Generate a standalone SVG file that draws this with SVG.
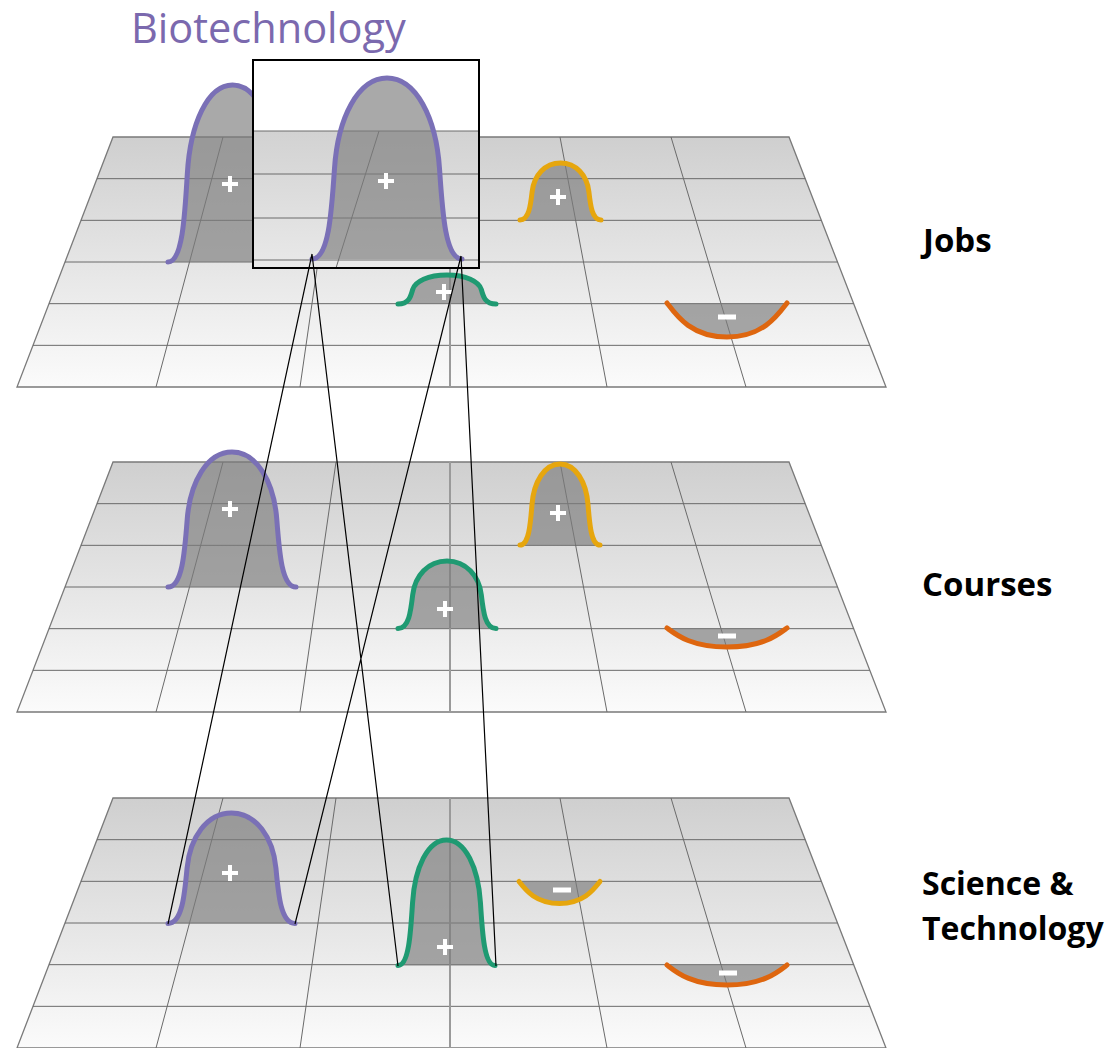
<svg xmlns="http://www.w3.org/2000/svg" xmlns:xlink="http://www.w3.org/1999/xlink" width="1119" height="1048" viewBox="0 0 1119 1048">
<style>
.plane{fill:url(#pg);stroke:#7a7a7a;stroke-width:1.3}
.grid{stroke:#6a6a6a;stroke-width:1;fill:none}
.mid{stroke:#9a9a9a;stroke-width:2;fill:none}
.purple{stroke:#7a70b6}
.yellow{stroke:#e6a60e}
.green{stroke:#1f9a72}
.orange{stroke:#de660f}
.conn{stroke:#000;stroke-width:1.2;fill:none}
.lbl{font-family:"Open Sans","DejaVu Sans",sans-serif;font-weight:bold;font-size:33px;fill:#000}
.lbl2{font-family:"Open Sans","DejaVu Sans",sans-serif;font-weight:bold;font-size:32px;fill:#000}
.title{font-family:"Open Sans","DejaVu Sans",sans-serif;font-size:41.5px;fill:#7b69ae}
</style>
<defs>
<linearGradient id="pg" x1="0" y1="0" x2="0" y2="1">
<stop offset="0" stop-color="#cfcfcf"/>
<stop offset="1" stop-color="#fbfbfb"/>
</linearGradient>
<linearGradient id="ig" x1="0" y1="0" x2="0" y2="1">
<stop offset="0" stop-color="#d2d2d2"/>
<stop offset="1" stop-color="#e9e9e9"/>
</linearGradient>
<g id="plane">
<polygon class="plane" points="113,0 789,0 886,250 17,250"/>
<path class="grid" d="M97,41.67H805.2M81,83.33H821.3M65,125H837.5M49,166.67H853.7M33,208.33H869.8M223,0L156,250M336,0L300,250M560,0L607,250M671,0L746,250"/>
<path class="mid" d="M450,0V250"/>
</g>
<path id="bell" d="M0,0 C0.22,0 0.26,-0.25 0.3,-0.5 C0.345,-0.78 0.614,-1 1,-1 C1.386,-1 1.655,-0.78 1.7,-0.5 C1.74,-0.25 1.78,0 2,0" fill="#7d7d7d" fill-opacity="0.66" stroke-width="5" stroke-linecap="round" vector-effect="non-scaling-stroke"/>
<path id="dip" d="M0,0 C0.15,0.35 0.4,1 1,1 C1.6,1 1.85,0.35 2,0" fill="#7d7d7d" fill-opacity="0.66" stroke-width="5" stroke-linecap="round" vector-effect="non-scaling-stroke"/>
<path id="plus" d="M-8,0H8M0,-8V8" stroke="#fff" stroke-width="4" fill="none"/>
<rect id="minus" x="-9" y="-2.5" width="18" height="5" fill="#fff"/>
</defs>

<g id="layer-jobs">
<use href="#plane" transform="translate(0,137)"/>
<use href="#bell" class="purple" transform="translate(168,262) scale(64.5,177)"/>
<use href="#plus" transform="translate(230,184)"/>
<use href="#bell" class="yellow" transform="translate(520,220) scale(40.5,57)"/>
<use href="#plus" transform="translate(558,197)"/>
<use href="#bell" class="green" transform="translate(398,304) scale(49,29)"/>
<use href="#plus" transform="translate(444,292)"/>
<use href="#dip" class="orange" transform="translate(667,303) scale(60,34)"/>
<use href="#minus" transform="translate(727,317)"/>
</g>

<g id="inset-biotechnology">
<rect x="253" y="60" width="226" height="208" fill="#fff"/>
<rect x="253" y="131" width="226" height="137" fill="url(#ig)"/>
<path class="grid" d="M253,131H479M253,174H479M253,218H479M253,260H479M379,131L336,268"/>
<use href="#bell" class="purple" transform="translate(312,259) scale(75,181)"/>
<use href="#plus" transform="translate(386,181)" stroke-width="4.5"/>
<rect x="253" y="60" width="226" height="208" fill="none" stroke="#000" stroke-width="2"/>
</g>

<g id="layer-courses">
<use href="#plane" transform="translate(0,462)"/>
<use href="#bell" class="purple" transform="translate(168,587) scale(64,135)"/>
<use href="#plus" transform="translate(230,509)"/>
<use href="#bell" class="yellow" transform="translate(520,545) scale(40,81)"/>
<use href="#plus" transform="translate(558,513)"/>
<use href="#bell" class="green" transform="translate(398,628.5) scale(49,67.5)"/>
<use href="#plus" transform="translate(445,609)"/>
<use href="#dip" class="orange" transform="translate(667,628) scale(60,19)"/>
<use href="#minus" transform="translate(727,636)"/>
</g>

<g id="layer-science">
<use href="#plane" transform="translate(0,798)"/>
<use href="#bell" class="purple" transform="translate(168,923.5) scale(63.5,110.5)"/>
<use href="#plus" transform="translate(230,873)"/>
<use href="#bell" class="green" transform="translate(398,965.5) scale(48.5,125.5)"/>
<use href="#plus" transform="translate(445,947)"/>
<use href="#dip" class="yellow" transform="translate(519,881.5) scale(40.5,22)"/>
<use href="#minus" transform="translate(562,890)"/>
<use href="#dip" class="orange" transform="translate(667,965) scale(60,20)"/>
<use href="#minus" transform="translate(728,973)"/>
</g>

<g id="connectors">
<path class="conn" d="M312,254L168,924M312,254L398,966M461,256L295,924M461,256L496,966"/>
</g>

<g id="labels">
<text class="title" x="131" y="43">Biotechnology</text>
<text class="lbl" x="923" y="252">Jobs</text>
<text class="lbl" x="922" y="596">Courses</text>
<text class="lbl2" x="922" y="895">Science &amp;</text>
<text class="lbl2" x="922" y="940">Technology</text>
</g>
</svg>
